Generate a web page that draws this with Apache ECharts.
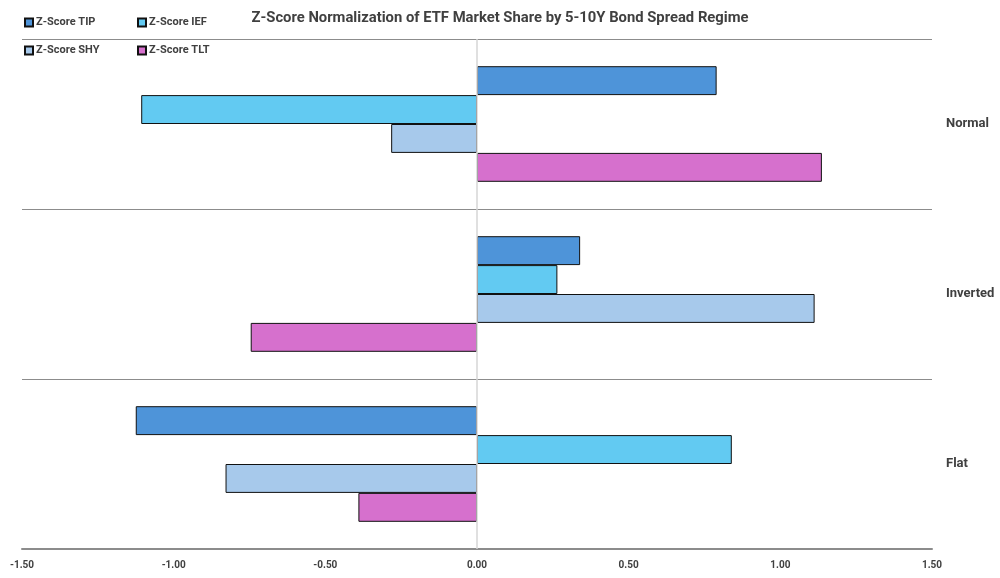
<!DOCTYPE html>
<html><head><meta charset="utf-8">
<script src="https://cdn.jsdelivr.net/npm/echarts@6/dist/echarts.min.js"></script>
<style>html,body{margin:0;padding:0;background:#fff}#c{width:1000px;height:578px}</style>
</head><body><div id="c"></div>
<script>
const categories = ['Normal', 'Inverted', 'Flat'];
const seriesNames = ['Z-Score TIP', 'Z-Score IEF', 'Z-Score SHY', 'Z-Score TLT'];
const tipValues = [0.79, 0.34, -1.125];
const iefValues = [-1.107, 0.265, 0.84];
const shyValues = [-0.283, 1.113, -0.829];
const tltValues = [1.137, -0.746, -0.391];
const xTicks = { min: -1.5, max: 1.5, interval: 0.5 };
const colors = ['#4E94D9', '#62CAF2', '#A7C9EB', '#D670CD'];

const allValues = [tipValues, iefValues, shyValues, tltValues];
const chart = echarts.init(document.getElementById('c'));
const series = seriesNames.map((n, i) => {
  const s = {
    name: n, type: 'bar', data: allValues[i],
    barGap: '0%', barCategoryGap: '32%',
    itemStyle: { color: colors[i], borderColor: '#111', borderWidth: 1 },
    emphasis: { disabled: true }
  };
  if (i === 0) {
    s.markLine = { silent: true, symbol: 'none', label: { show: false },
      lineStyle: { color: '#d6d6d6', type: 'solid', width: 1.5 },
      data: [{ xAxis: 0 }] };
  }
  return s;
});
const legendPos = [[24, 17], [137, 17], [24, 45], [137, 45]];
const legends = seriesNames.map((n, i) => ({
  data: [n], left: legendPos[i][0], top: legendPos[i][1], padding: 0,
  icon: 'rect', itemWidth: 8, itemHeight: 8, itemGap: 2,
  textStyle: { fontFamily: 'Roboto', fontWeight: 'bold', fontSize: 11, color: '#404040', padding: [0, 0, 0, -2] },
  selectedMode: false
}));
chart.setOption({
  animation: false,
  title: { text: 'Z-Score Normalization of ETF Market Share by 5-10Y Bond Spread Regime',
    left: 'center', top: 6,
    textStyle: { fontFamily: 'Roboto', fontWeight: 'bold', fontSize: 14.8, color: '#404040' } },
  legend: legends,
  grid: { left: 22, right: 68, top: 39, bottom: 29, containLabel: false },
  xAxis: { type: 'value', min: xTicks.min, max: xTicks.max, interval: xTicks.interval,
    axisLine: { show: true, lineStyle: { color: '#8c8c8c', width: 2 } },
    axisTick: { show: false }, splitLine: { show: false },
    axisLabel: { formatter: v => v.toFixed(2), margin: 11, fontFamily: 'Roboto', fontWeight: 'bold', fontSize: 10, color: '#404040' } },
  yAxis: { type: 'category', data: categories, inverse: true, position: 'right',
    axisLine: { show: false }, axisTick: { show: false },
    splitLine: { show: true, lineStyle: { color: '#8c8c8c', width: 1.2 } },
    axisLabel: { margin: 14, fontFamily: 'Roboto', fontWeight: 'bold', fontSize: 13, color: '#404040', align: 'left' } },
  series: series
});
</script></body></html>
